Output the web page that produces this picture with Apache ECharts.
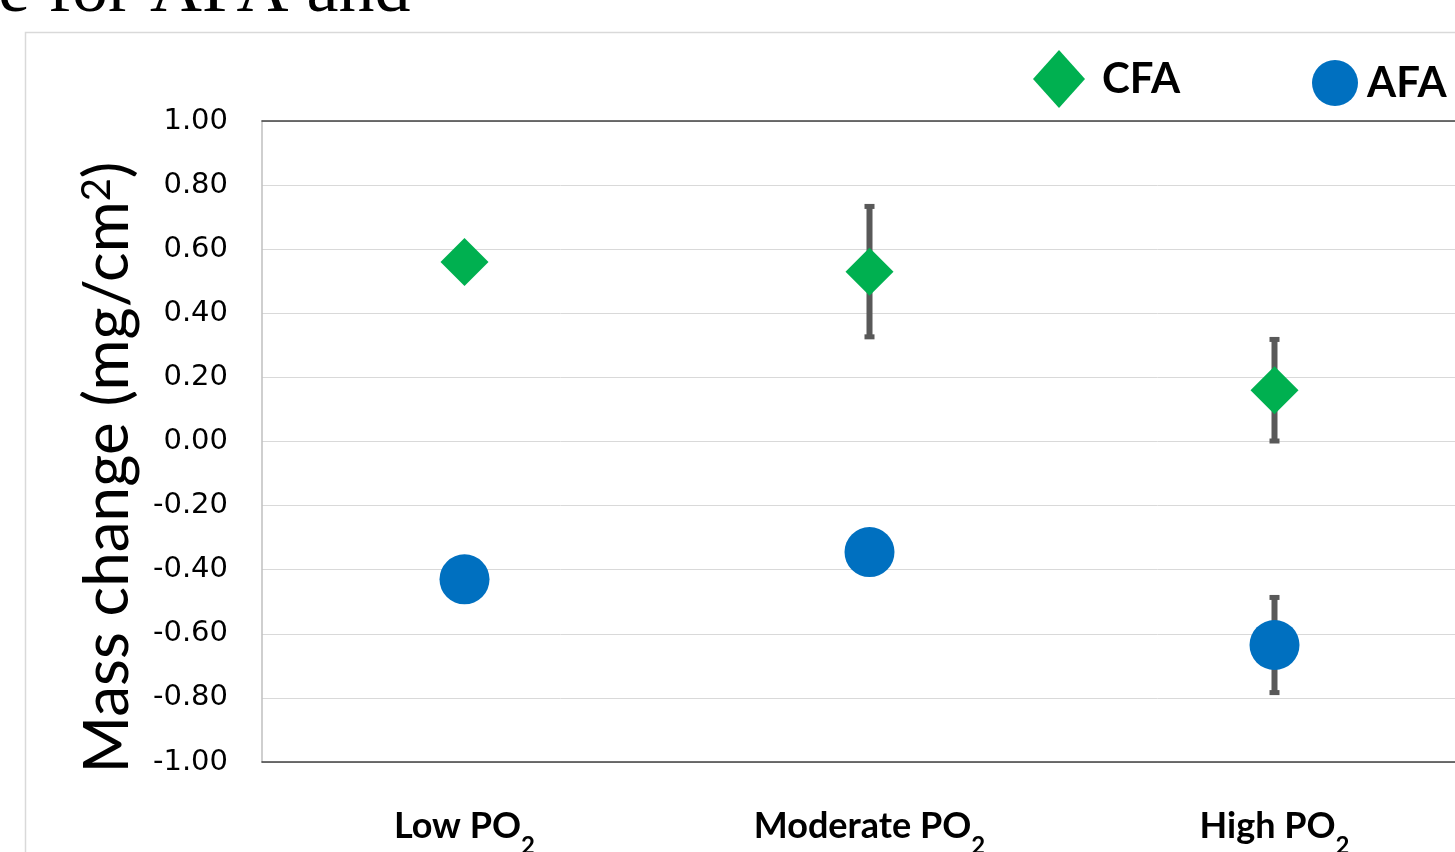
<!DOCTYPE html>
<html>
<head>
<meta charset="utf-8">
<script src="https://cdn.jsdelivr.net/npm/echarts@6/dist/echarts.min.js"></script>
<style>
html,body{margin:0;padding:0;background:#fff;overflow:hidden;}
#chart{width:1455px;height:852px;}
</style>
</head>
<body>
<div id="chart"></div>
<script>
// ---- data ----
const categories = ['Low PO2', 'Moderate PO2', 'High PO2'];
const cfaValues = [0.56, 0.53, 0.16];
const cfaErrors = [0, 0.205, 0.16];
const afaValues = [-0.43, -0.345, -0.635];
const afaErrors = [0, 0, 0.15];
const yTicks = { min: -1, max: 1, interval: 0.2 };
const yTitle = 'Mass change (mg/cm';
const captionText = 'e for AFA and';

function errData(vals, errs) {
  const out = [];
  vals.forEach((v, i) => { if (errs[i] > 0) out.push([i, v - errs[i], v + errs[i]]); });
  return out;
}

function renderErr(params, api) {
  const x = api.value(0), lo = api.value(1), hi = api.value(2);
  const top = api.coord([x, hi]);
  const bot = api.coord([x, lo]);
  const c = '#595959';
  return {
    type: 'group',
    children: [
      { type: 'line', shape: { x1: top[0], y1: top[1], x2: bot[0], y2: bot[1] }, style: { stroke: c, lineWidth: 6 } },
      { type: 'rect', shape: { x: top[0] - 5, y: top[1] - 2, width: 10, height: 5 }, style: { fill: c } },
      { type: 'rect', shape: { x: bot[0] - 5, y: bot[1] - 3, width: 10, height: 5 }, style: { fill: c } }
    ]
  };
}

const chart = echarts.init(document.getElementById('chart'));
const option = {
  backgroundColor: '#ffffff',
  animation: false,
  graphic: [
    { type: 'rect', silent: true, z: -10,
      shape: { x: 25.5, y: 32.5, width: 1600, height: 1000 },
      style: { fill: 'none', stroke: '#d9d9d9', lineWidth: 1.5 } },
    { type: 'text', silent: true,
      style: { text: captionText, x: -2, y: -8, font: '72px "Liberation Serif"', fill: '#000', textAlign: 'left', textVerticalAlign: 'middle' } }
  ],
  legend: [
    { data: ['CFA'], left: 1028, top: 45, icon: 'diamond', itemWidth: 52, itemHeight: 58,
      textStyle: { fontFamily: 'Lato', fontWeight: 'bold', fontSize: 42, color: '#000', padding: [0, 0, 0, 12] } },
    { data: ['AFA'], left: 1307, top: 55, icon: 'circle', itemWidth: 46, itemHeight: 46,
      textStyle: { fontFamily: 'Lato', fontWeight: 'bold', fontSize: 42, color: '#000', padding: [0, 0, 0, 4] } }
  ],
  grid: { left: 262, top: 121, bottom: 90, right: -22, containLabel: false, outerBoundsMode: 'none' },
  xAxis: [
    { type: 'category', data: categories, boundaryGap: true, position: 'bottom',
      axisLine: { show: true, onZero: false, lineStyle: { color: '#404040', width: 1.5 } },
      axisTick: { show: false },
      axisLabel: {
        margin: 46, interval: 0,
        formatter: v => '{b|' + v.replace(/2$/, '') + '}{s|2}',
        rich: {
          b: { fontFamily: 'Lato', fontWeight: 'bold', fontSize: 36, color: '#000', lineHeight: 50, verticalAlign: 'top' },
          s: { fontFamily: 'Lato', fontWeight: 'bold', fontSize: 24, color: '#000', lineHeight: 44, verticalAlign: 'bottom' }
        }
      },
      splitLine: { show: false } },
    { type: 'category', data: categories, position: 'top',
      axisLine: { show: true, onZero: false, lineStyle: { color: '#404040', width: 1.5 } },
      axisTick: { show: false }, axisLabel: { show: false }, splitLine: { show: false } }
  ],
  yAxis: {
    type: 'value', min: yTicks.min, max: yTicks.max, interval: yTicks.interval,
    axisLine: { show: true, lineStyle: { color: '#bfbfbf', width: 1.5 } },
    axisTick: { show: false },
    axisLabel: { margin: 34, fontFamily: 'DejaVu Sans', fontSize: 29, color: '#000',
      formatter: v => v.toFixed(2) },
    splitLine: { show: true, lineStyle: { color: '#d9d9d9', width: 1 } },
    name: yTitle + '{sup|2})',
    nameLocation: 'middle',
    nameGap: 123,
    nameRotate: 90,
    nameTextStyle: {
      fontFamily: 'Lato', fontSize: 62, color: '#000', padding: [0, 52, 0, 0],
      rich: {
        sup: { fontFamily: 'Lato', fontSize: 40, color: '#000', verticalAlign: 'top', lineHeight: 40 }
      }
    }
  },
  series: [
    { type: 'custom', name: 'errCFA', renderItem: renderErr, data: errData(cfaValues, cfaErrors), z: 2,
      encode: { x: 0, y: [1, 2] }, silent: true },
    { type: 'custom', name: 'errAFA', renderItem: renderErr, data: errData(afaValues, afaErrors), z: 2,
      encode: { x: 0, y: [1, 2] }, silent: true },
    { type: 'scatter', name: 'CFA', data: cfaValues, symbol: 'diamond', symbolSize: 48, z: 5,
      itemStyle: { color: '#00B050', opacity: 1 } },
    { type: 'scatter', name: 'AFA', data: afaValues, symbol: 'circle', symbolSize: 50, z: 5,
      itemStyle: { color: '#0070C0', opacity: 1 } }
  ]
};
chart.setOption(option);
</script>
</body>
</html>
